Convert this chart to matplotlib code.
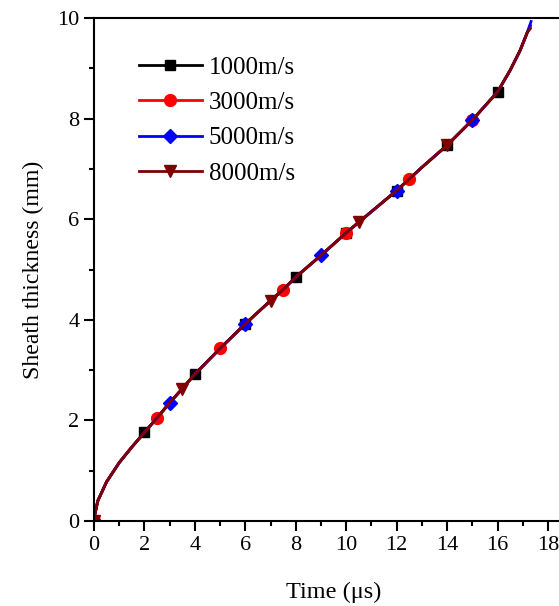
import matplotlib
matplotlib.use('Agg')
import matplotlib.pyplot as plt
from matplotlib.ticker import MultipleLocator
from matplotlib import font_manager

names = set(f.name for f in font_manager.fontManager.ttflist)
serif = [n for n in ['Liberation Serif', 'Tinos', 'Times New Roman', 'STIXGeneral'] if n in names]
plt.rcParams['font.family'] = serif + ['DejaVu Serif']

# time axis (us), shared by all speeds
time_us = [0, 0.03, 0.15, 0.5, 1, 1.5, 2, 2.5, 3, 3.5, 4, 5, 6, 7, 7.5, 8, 9,
           10, 10.5, 11, 12, 12.5, 13, 14, 15, 15.5, 16, 16.5, 16.9, 17.17]

base = [0, 0.12, 0.4, 0.78, 1.16, 1.47, 1.76, 2.05, 2.35, 2.63, 2.92, 3.43, 3.92,
        4.38, 4.6, 4.85, 5.28, 5.73, 5.94, 6.15, 6.57, 6.8, 7.03, 7.47, 7.97, 8.25,
        8.53, 8.96, 9.36, 9.7]

# end points differ slightly between speeds
time_1000 = time_us + [17.3]
time_3000 = time_us + [17.3]
time_5000 = time_us + [17.33]
time_8000 = time_us + [17.3]
sheath_1000 = base + [9.85]
sheath_3000 = base + [9.82]
sheath_5000 = base + [9.93]
sheath_8000 = base + [9.79]

labels = ['1000m/s', '3000m/s', '5000m/s', '8000m/s']
colors = ['black', '#ff0000', '#0000ff', '#800000']
markers = ['s', 'o', 'D', 'v']
msizes = [7, 8.5, 7, 8.5]
# times at which the symbols sit
mark_times = [[0, 2, 4, 6, 8, 10, 12, 14, 16],
              [0, 2.5, 5, 7.5, 10, 12.5, 15],
              [0, 3, 6, 9, 12, 15],
              [0, 3.5, 7, 10.5, 14]]
times = [time_1000, time_3000, time_5000, time_8000]
series = [sheath_1000, sheath_3000, sheath_5000, sheath_8000]

fig = plt.figure(figsize=(5.59, 6.06), dpi=100)
ax = fig.add_axes([94/559, 85/606, 19*25.22/559, 503/606])

for t, y, lab, c, m, ms, mt in zip(times, series, labels, colors, markers, msizes, mark_times):
    idx = [t.index(v) for v in mt]
    ax.plot(t, y, color=c, lw=2.0, marker=m, ms=ms, markevery=idx, label=lab)

ax.set_xlim(0, 19)
ax.set_ylim(0, 10)
ax.xaxis.set_major_locator(MultipleLocator(2))
ax.xaxis.set_minor_locator(MultipleLocator(1))
ax.yaxis.set_major_locator(MultipleLocator(2))
ax.yaxis.set_minor_locator(MultipleLocator(1))
ax.tick_params(which='major', direction='out', length=7, width=1.5, labelsize=16)
ax.tick_params(which='minor', direction='out', length=3.5, width=1.5)
for s in ax.spines.values():
    s.set_linewidth(1.5)

ax.set_xlabel('Time (\u03bcs)', size=17.5)
ax.set_ylabel('Sheath thickness (mm)', size=17.2)
ax.xaxis.set_label_coords(0.5, -0.12)
ax.yaxis.set_label_coords(-0.104, 0.5)

ax.legend(loc='upper left', bbox_to_anchor=(139/559, 1 - 56/606),
          bbox_transform=fig.transFigure, frameon=False, fontsize=18,
          handlelength=2.5, handletextpad=0.3, labelspacing=0.52, borderpad=0,
          borderaxespad=0)

fig.savefig('out.png', dpi=100)
plt.close()
